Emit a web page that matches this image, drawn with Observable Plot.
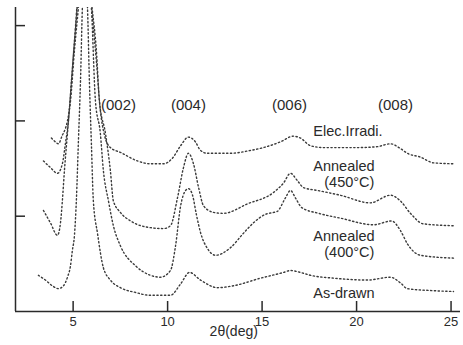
<!DOCTYPE html>
<html><head><meta charset="utf-8">
<script src="https://cdn.jsdelivr.net/npm/d3@7"></script>
<script src="https://cdn.jsdelivr.net/npm/@observablehq/plot@0.6"></script>
<style>
html,body{margin:0;padding:0;background:#fff;}
</style>
</head><body><div id="chart"></div>
<script>
// 2θ (deg) and intensity (arbitrary units, stacked) for each sample
const elecTheta = [3.85,4.06,4.22,4.43,4.59,4.70,4.86,5.07,5.28,5.6,5.97,6.23,6.44,6.66,6.97,7.50,8.40,9.09,9.78,10.26,10.69,11.10,11.47,11.74,12.11,13.33,14.38,15.07,15.97,16.66,17.03,17.56,18.25,20.04,21.10,21.79,22.32,22.69,23.38,24.07,25.13];
const elecI     = [1.82,1.78,1.76,1.85,1.92,2.00,2.21,2.74,3.19,3.9,3.19,2.63,2.11,1.85,1.72,1.67,1.58,1.55,1.55,1.61,1.74,1.83,1.78,1.69,1.66,1.66,1.69,1.72,1.78,1.84,1.82,1.74,1.72,1.72,1.73,1.76,1.71,1.66,1.62,1.56,1.55];

const ann450Theta = [3.43,3.80,4.17,4.43,4.59,4.75,4.91,5.12,5.6,6.00,6.23,6.39,6.71,6.97,7.13,7.50,8.04,9.09,9.78,10.15,10.53,10.84,11.10,11.37,11.64,11.90,12.43,12.96,14.23,15.61,16.14,16.50,16.88,17.19,17.93,19.14,20.73,21.79,22.32,22.85,23.53,25.13];
const ann450I     = [1.58,1.51,1.45,1.55,1.76,2.00,2.42,2.95,3.9,3.19,2.74,2.21,1.87,1.48,1.16,1.04,0.95,0.88,0.87,0.90,1.20,1.51,1.66,1.55,1.30,1.11,1.04,1.03,1.13,1.25,1.35,1.45,1.37,1.30,1.27,1.22,1.14,1.22,1.16,1.03,0.92,0.90];

const ann400Theta = [3.43,3.80,4.17,4.33,4.43,4.54,4.70,4.86,5.07,5.6,5.97,6.18,6.44,6.60,6.87,7.13,7.50,8.30,9.09,9.62,10.15,10.42,10.69,10.95,11.10,11.32,11.53,11.74,12.11,12.54,13.33,14.01,14.54,15.18,15.61,15.80,16.23,16.50,16.77,17.10,18.00,19.14,20.90,21.85,22.32,22.69,23.38,25.13];
const ann400I     = [1.06,0.93,0.80,0.93,1.16,1.48,1.87,2.27,2.84,4.0,3.19,2.21,1.87,1.48,1.16,0.90,0.69,0.48,0.38,0.36,0.43,0.69,1.11,1.27,1.29,1.22,1.01,0.83,0.66,0.59,0.67,0.82,0.93,1.02,1.04,1.05,1.19,1.27,1.19,1.09,1.03,0.98,0.91,0.95,0.85,0.71,0.59,0.56];

const drawnTheta = [3.16,3.53,3.90,4.22,4.49,4.70,4.86,4.96,5.07,5.17,5.28,5.39,5.49,5.62,5.76,5.86,5.97,6.07,6.29,6.60,6.97,7.50,8.30,9.09,10.15,10.69,11.16,11.74,12.64,13.49,14.92,16.14,16.50,17.03,17.56,18.78,20.57,21.79,22.32,22.69,23.91,25.13];
const drawnI     = [0.38,0.33,0.27,0.24,0.27,0.36,0.48,0.64,0.80,1.16,1.79,2.42,3.19,3.6,3.19,2.42,1.74,1.16,0.82,0.46,0.33,0.25,0.20,0.17,0.17,0.29,0.41,0.33,0.25,0.27,0.35,0.41,0.43,0.41,0.38,0.35,0.33,0.36,0.30,0.24,0.22,0.21];

// axis ticks
const xTicks = [5, 10, 15, 20, 25];
const yTicks = [1, 2, 3];
const xTitle = "2θ(deg)";

// annotations
const peakLabels = ["(002)", "(004)", "(006)", "(008)"];
const peakTheta  = [7.40, 11.10, 16.45, 22.06];
const peakLevel  = [2.17, 2.17, 2.17, 2.17];

const seriesLabels = ["Elec.Irradi.", "Annealed\n\u2007\u2009(450°C)", "Annealed\n\u2007\u2009(400°C)", "As-drawn"];
const labelTheta   = [17.71, 17.71, 17.71, 17.71];
const labelLevel   = [1.89, 1.443, 0.708, 0.20];

const seriesDefs = [
  ["Elec.Irradi.", elecTheta, elecI],
  ["Annealed 450", ann450Theta, ann450I],
  ["Annealed 400", ann400Theta, ann400I],
  ["As-drawn", drawnTheta, drawnI]
];
const rows = seriesDefs.flatMap(([s, xs, ys]) => xs.map((x, i) => ({series: s, x, y: ys[i]})));
const peaks = peakLabels.map((t, i) => ({t, x: peakTheta[i], y: peakLevel[i]}));
const slabels = seriesLabels.map((t, i) => ({t, x: labelTheta[i], y: labelLevel[i]}));

const xMin = 1.95, xMax = 25.5, yMax = 3.19;
const ink = "#2a2a2a";

const chart = Plot.plot({
  width: 463, height: 345,
  marginLeft: 15, marginRight: 3, marginTop: 7, marginBottom: 34,
  style: {fontFamily: "'Liberation Sans', Arial, sans-serif", fontSize: "13px", color: ink, background: "#fff", overflow: "visible"},
  x: {domain: [xMin, xMax]},
  y: {domain: [0, yMax]},
  marks: [
    Plot.line(rows, {x: "x", y: "y", z: "series", curve: "monotone-x", stroke: "#3a3a3a", strokeWidth: 1.4, strokeDasharray: "1.3 2.5", clip: true}),
    Plot.ruleY([0], {stroke: ink, strokeWidth: 1.5}),
    Plot.ruleX([xMin], {stroke: ink, strokeWidth: 1.5}),
    Plot.axisX({ticks: xTicks, tickSize: -10, tickPadding: 15, tickFormat: d => String(d), fontSize: 13, label: null, stroke: ink, strokeWidth: 1.5, style: "letter-spacing:1px"}),
    Plot.axisY({ticks: yTicks, tickSize: -10, tickFormat: () => "", label: null, stroke: ink, strokeWidth: 1.5}),
    Plot.text([xTitle], {frameAnchor: "bottom", x: () => 13.5, dy: 24, fontSize: 14, fill: ink, style: "letter-spacing:1.5px"}),
    Plot.text(peaks, {x: "x", y: "y", text: "t", fontSize: 15, fill: ink}),
    Plot.text(slabels, {x: "x", y: "y", text: "t", textAnchor: "start", fontSize: 14.5, lineHeight: 1.1, fill: ink})
  ]
});
document.getElementById("chart").appendChild(chart);
</script>
</body></html>
